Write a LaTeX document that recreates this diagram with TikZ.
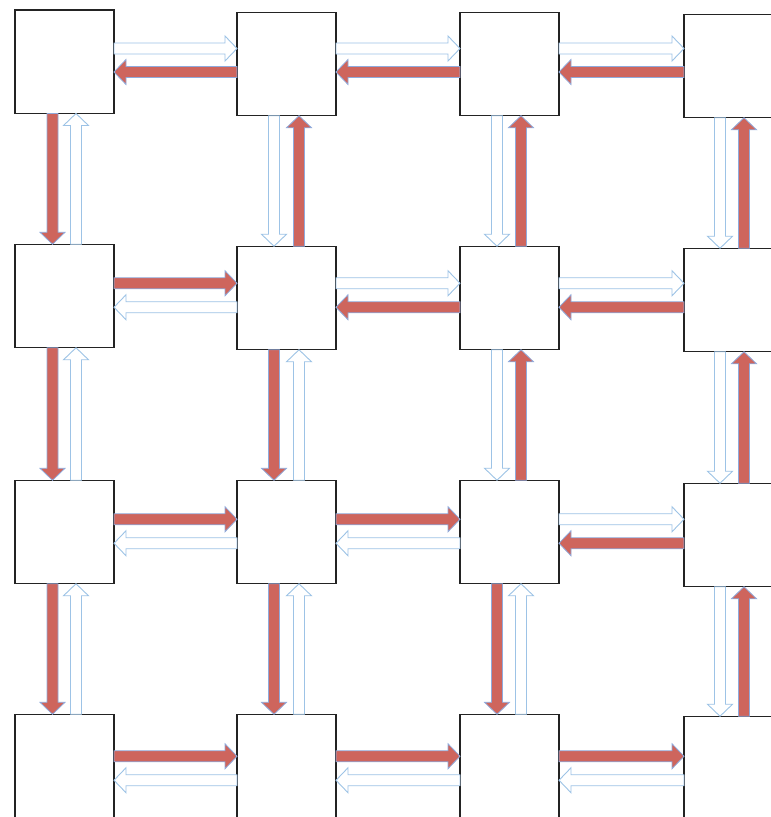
\documentclass[tikz,border=0pt]{standalone}
\usetikzlibrary{calc}
\definecolor{redfill}{RGB}{206,101,93}
\definecolor{redline}{RGB}{143,170,220}
\definecolor{blueline}{RGB}{157,195,230}
\definecolor{boxline}{RGB}{35,35,35}
\tikzset{
  cell/.style={draw=boxline, line width=1.1pt, fill=white, minimum width=99pt,
    minimum height=103.5pt, inner sep=0pt, outer sep=0pt},
  redarrow/.style={fill=redfill, draw=redline, line width=0.8pt, line join=miter},
  whitearrow/.style={fill=white, draw=blueline, line width=0.9pt, line join=miter},
}
\newcommand\blockarrow[3]{%
  \coordinate (ba-s) at #2;
  \coordinate (ba-e) at #3;
  \coordinate (ba-c) at ($(ba-e)!12pt!(ba-s)$);
  \draw[#1] ($(ba-s)!5.5pt!90:(ba-e)$) -- ($(ba-c)!5.5pt!90:(ba-e)$)
    -- ($(ba-c)!12.5pt!90:(ba-e)$) -- (ba-e) -- ($(ba-c)!12.5pt!-90:(ba-e)$)
    -- ($(ba-c)!5.5pt!-90:(ba-e)$) -- ($(ba-s)!5.5pt!-90:(ba-e)$) -- cycle;
}
\newcommand\hconn[5]{%
  \coordinate (hc-p) at ($(#4.center)+(0,#5)$);
  \blockarrow{#1}{(#2 |- hc-p)}{(#3 |- hc-p)}}
\newcommand\vconn[5]{%
  \coordinate (hc-p) at ($(#4.center)+(#5,0)$);
  \blockarrow{#1}{(hc-p |- #2)}{(hc-p |- #3)}}
\begin{document}
\begin{tikzpicture}[x=1pt,y=-1pt]
\useasboundingbox (0,0) rectangle (771,817);
\fill[white] (0,0) rectangle (771,817);
\clip (0,0) rectangle (771,817);
% boxes
\node[cell] (b11) at (64.5,61.75) {};
\node[cell] (b12) at (286.5,64) {};
\node[cell] (b13) at (509.5,64) {};
\node[cell] (b14) at (733.5,66) {};
\node[cell] (b21) at (64.5,296) {};
\node[cell] (b22) at (286.5,298) {};
\node[cell] (b23) at (509.5,298) {};
\node[cell] (b24) at (733.5,300) {};
\node[cell] (b31) at (64.5,532) {};
\node[cell] (b32) at (286.5,532) {};
\node[cell] (b33) at (509.5,532) {};
\node[cell] (b34) at (733.5,535) {};
\node[cell] (b41) at (64.5,766) {};
\node[cell] (b42) at (286.5,766) {};
\node[cell] (b43) at (509.5,766) {};
\node[cell] (b44) at (733.5,768) {};
% row 1 horizontal
\hconn{whitearrow}{b11.east}{b12.west}{b11}{-13.25}
\hconn{redarrow}{b12.west}{b11.east}{b11}{10.25}
\hconn{whitearrow}{b12.east}{b13.west}{b11}{-13.25}
\hconn{redarrow}{b13.west}{b12.east}{b11}{10.25}
\hconn{whitearrow}{b13.east}{b14.west}{b11}{-13.25}
\hconn{redarrow}{b14.west}{b13.east}{b11}{10.25}
% row 2 horizontal
\hconn{redarrow}{b21.east}{b22.west}{b21}{-12.75}
\hconn{whitearrow}{b22.west}{b21.east}{b21}{11.25}
\hconn{whitearrow}{b22.east}{b23.west}{b21}{-12.75}
\hconn{redarrow}{b23.west}{b22.east}{b21}{11.25}
\hconn{whitearrow}{b23.east}{b24.west}{b21}{-12.75}
\hconn{redarrow}{b24.west}{b23.east}{b21}{11.25}
% row 3 horizontal
\hconn{redarrow}{b31.east}{b32.west}{b31}{-12.75}
\hconn{whitearrow}{b32.west}{b31.east}{b31}{11.25}
\hconn{redarrow}{b32.east}{b33.west}{b31}{-12.75}
\hconn{whitearrow}{b33.west}{b32.east}{b31}{11.25}
\hconn{whitearrow}{b33.east}{b34.west}{b31}{-12.75}
\hconn{redarrow}{b34.west}{b33.east}{b31}{11.25}
% row 4 horizontal
\hconn{redarrow}{b41.east}{b42.west}{b41}{-9.75}
\hconn{whitearrow}{b42.west}{b41.east}{b41}{14.25}
\hconn{redarrow}{b42.east}{b43.west}{b41}{-9.75}
\hconn{whitearrow}{b43.west}{b42.east}{b41}{14.25}
\hconn{redarrow}{b43.east}{b44.west}{b41}{-9.75}
\hconn{whitearrow}{b44.west}{b43.east}{b41}{14.25}
% column 1 vertical
\vconn{redarrow}{b11.south}{b21.north}{b11}{-12}
\vconn{whitearrow}{b21.north}{b11.south}{b11}{11.5}
\vconn{redarrow}{b21.south}{b31.north}{b11}{-12}
\vconn{whitearrow}{b31.north}{b21.south}{b11}{11.5}
\vconn{redarrow}{b31.south}{b41.north}{b11}{-12}
\vconn{whitearrow}{b41.north}{b31.south}{b11}{11.5}
% column 2 vertical
\vconn{whitearrow}{b12.south}{b22.north}{b12}{-12.5}
\vconn{redarrow}{b22.north}{b12.south}{b12}{12.5}
\vconn{redarrow}{b22.south}{b32.north}{b12}{-12.5}
\vconn{whitearrow}{b32.north}{b22.south}{b12}{12.5}
\vconn{redarrow}{b32.south}{b42.north}{b12}{-12.5}
\vconn{whitearrow}{b42.north}{b32.south}{b12}{12.5}
% column 3 vertical
\vconn{whitearrow}{b13.south}{b23.north}{b13}{-12.5}
\vconn{redarrow}{b23.north}{b13.south}{b13}{11.5}
\vconn{whitearrow}{b23.south}{b33.north}{b13}{-12.5}
\vconn{redarrow}{b33.north}{b23.south}{b13}{11.5}
\vconn{redarrow}{b33.south}{b43.north}{b13}{-12.5}
\vconn{whitearrow}{b43.north}{b33.south}{b13}{11.5}
% column 4 vertical
\vconn{whitearrow}{b14.south}{b24.north}{b14}{-13.5}
\vconn{redarrow}{b24.north}{b14.south}{b14}{10.5}
\vconn{whitearrow}{b24.south}{b34.north}{b14}{-13.5}
\vconn{redarrow}{b34.north}{b24.south}{b14}{10.5}
\vconn{whitearrow}{b34.south}{b44.north}{b14}{-13.5}
\vconn{redarrow}{b44.north}{b34.south}{b14}{10.5}
\end{tikzpicture}
\end{document}
